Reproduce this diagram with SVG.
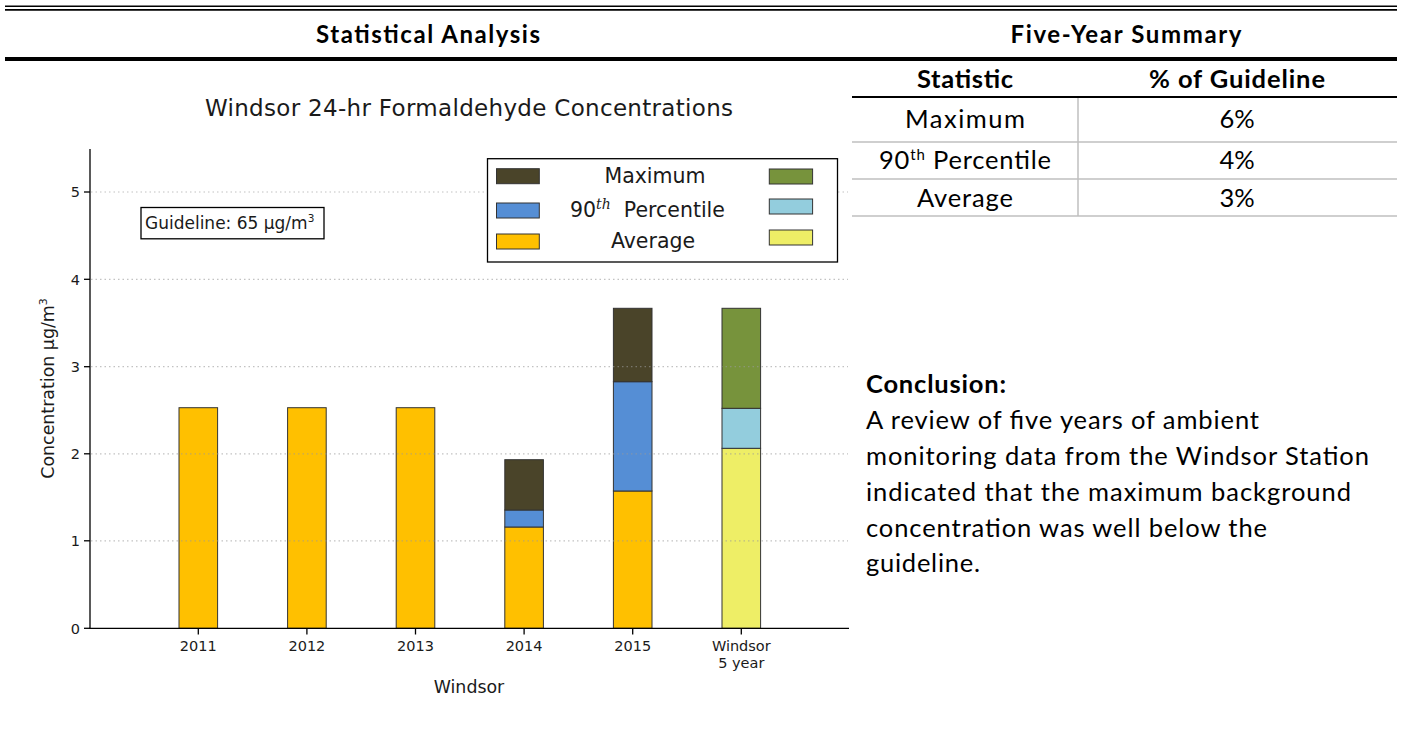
<svg xmlns="http://www.w3.org/2000/svg" width="1401" height="729" viewBox="0 0 1401 729">
<style>
.hd{font-family:Lato,"Liberation Sans",sans-serif;font-weight:bold;font-size:24px;fill:#000}
.tb{font-family:Lato,"Liberation Sans",sans-serif;font-size:25.5px;fill:#000}
.tbb{font-family:Lato,"Liberation Sans",sans-serif;font-weight:bold;font-size:25.5px;fill:#000}
.mp{font-family:"DejaVu Sans",sans-serif;fill:#1a1a1a}
.tick{font-size:14.5px}
.grid{stroke:#999;stroke-opacity:0.6;stroke-width:1.2;stroke-dasharray:1.5 3}
.bar{stroke:#333;stroke-width:1}
.mx{fill:#4a4429}.p90{fill:#558ed5}.av{fill:#ffc000}
.wmx{fill:#77933c}.wp90{fill:#93cddd}.wav{fill:#eeee66}
.rule{stroke:#bfbfbf;stroke-width:1.5}
</style>
<rect width="1401" height="729" fill="#fff"/>
<g id="frame">
<line x1="5" y1="6.3" x2="1397" y2="6.3" stroke="#000" stroke-width="1.5"/>
<line x1="5" y1="9.8" x2="1397" y2="9.8" stroke="#000" stroke-width="1.8"/>
<line x1="5" y1="59" x2="1397" y2="59" stroke="#000" stroke-width="4"/>
<text class="hd" x="428" y="43" text-anchor="middle" textLength="224">Statistical Analysis</text>
<text class="hd" x="1126" y="43" text-anchor="middle" textLength="231">Five-Year Summary</text>
</g>
<g id="summary-table">
<line x1="852" y1="97" x2="1397" y2="97" stroke="#000" stroke-width="2"/>
<line class="rule" x1="852" y1="142" x2="1397" y2="142"/>
<line class="rule" x1="852" y1="179" x2="1397" y2="179"/>
<line class="rule" x1="852" y1="216" x2="1397" y2="216"/>
<line class="rule" x1="1078" y1="98" x2="1078" y2="216"/>
<text class="tbb" x="965" y="88" text-anchor="middle" textLength="96">Statistic</text>
<text class="tbb" x="1237" y="88" text-anchor="middle" textLength="176">% of Guideline</text>
<text class="tb" x="965" y="128" text-anchor="middle" textLength="120">Maximum</text>
<text class="tb" x="1237" y="128" text-anchor="middle">6%</text>
<text class="tb" x="965" y="169" text-anchor="middle" textLength="172">90<tspan font-size="15" dy="-9">th</tspan><tspan dy="9"> Percentile</tspan></text>
<text class="tb" x="1237" y="169" text-anchor="middle">4%</text>
<text class="tb" x="965" y="207" text-anchor="middle" textLength="96">Average</text>
<text class="tb" x="1237" y="207" text-anchor="middle">3%</text>
</g>
<g id="conclusion">
<text class="tbb" x="866" y="393" textLength="140">Conclusion:</text>
<text class="tb" x="866" y="429" textLength="393">A review of five years of ambient</text>
<text class="tb" x="866" y="465" textLength="503">monitoring data from the Windsor Station</text>
<text class="tb" x="866" y="501" textLength="485">indicated that the maximum background</text>
<text class="tb" x="866" y="537" textLength="401">concentration was well below the</text>
<text class="tb" x="866" y="572" textLength="114">guideline.</text>
</g>
<g id="chart">
<text class="mp" x="469" y="116" font-size="23" text-anchor="middle" textLength="528">Windsor 24-hr Formaldehyde Concentrations</text>
<g id="bars">
<rect class="bar av" x="179" y="407.7" width="38.6" height="220.6"/>
<rect class="bar av" x="287.6" y="407.7" width="38.6" height="220.6"/>
<rect class="bar av" x="396.2" y="407.7" width="38.6" height="220.6"/>
<rect class="bar av" x="504.8" y="527" width="38.6" height="101.3"/>
<rect class="bar p90" x="504.8" y="510" width="38.6" height="17"/>
<rect class="bar mx" x="504.8" y="459.7" width="38.6" height="50.3"/>
<rect class="bar av" x="613.4" y="491" width="38.6" height="137.3"/>
<rect class="bar p90" x="613.4" y="381.7" width="38.6" height="109.3"/>
<rect class="bar mx" x="613.4" y="308.3" width="38.6" height="73.4"/>
<rect class="bar wav" x="722" y="448.3" width="38.6" height="180"/>
<rect class="bar wp90" x="722" y="408.3" width="38.6" height="40"/>
<rect class="bar wmx" x="722" y="308.3" width="38.6" height="100"/>
</g>
<g id="gridlines">
<line class="grid" x1="91" y1="192" x2="848" y2="192"/>
<line class="grid" x1="91" y1="279.3" x2="848" y2="279.3"/>
<line class="grid" x1="91" y1="366.7" x2="848" y2="366.7"/>
<line class="grid" x1="91" y1="453.8" x2="848" y2="453.8"/>
<line class="grid" x1="91" y1="540.8" x2="848" y2="540.8"/>
</g>
<g id="axes" stroke="#000" stroke-width="1.3">
<line x1="90" y1="149" x2="90" y2="628.3"/>
<line x1="89.4" y1="628.3" x2="849" y2="628.3"/>
<line x1="84" y1="628.3" x2="90" y2="628.3"/>
<line x1="84" y1="540.8" x2="90" y2="540.8"/>
<line x1="84" y1="453.8" x2="90" y2="453.8"/>
<line x1="84" y1="366.7" x2="90" y2="366.7"/>
<line x1="84" y1="279.3" x2="90" y2="279.3"/>
<line x1="84" y1="192" x2="90" y2="192"/>
<line x1="198.3" y1="628.3" x2="198.3" y2="634.5"/>
<line x1="306.9" y1="628.3" x2="306.9" y2="634.5"/>
<line x1="415.5" y1="628.3" x2="415.5" y2="634.5"/>
<line x1="524.1" y1="628.3" x2="524.1" y2="634.5"/>
<line x1="632.7" y1="628.3" x2="632.7" y2="634.5"/>
<line x1="741.3" y1="628.3" x2="741.3" y2="634.5"/>
</g>
<g id="tick-labels" class="mp tick">
<text x="80" y="633.5" text-anchor="end">0</text>
<text x="80" y="546" text-anchor="end">1</text>
<text x="80" y="459" text-anchor="end">2</text>
<text x="80" y="372" text-anchor="end">3</text>
<text x="80" y="284.5" text-anchor="end">4</text>
<text x="80" y="197.2" text-anchor="end">5</text>
<text x="198.3" y="651" text-anchor="middle">2011</text>
<text x="306.9" y="651" text-anchor="middle">2012</text>
<text x="415.5" y="651" text-anchor="middle">2013</text>
<text x="524.1" y="651" text-anchor="middle">2014</text>
<text x="632.7" y="651" text-anchor="middle">2015</text>
<text x="741.3" y="651" text-anchor="middle">Windsor</text>
<text x="741.3" y="668" text-anchor="middle">5 year</text>
</g>
<text class="mp" x="469" y="693" font-size="17.4" text-anchor="middle">Windsor</text>
<text class="mp" transform="translate(54,388.5) rotate(-90)" font-size="17.4" text-anchor="middle">Concentration µg/m<tspan font-size="11" dy="-7">3</tspan></text>
<g id="guideline-box">
<rect x="141" y="207.5" width="183" height="31.3" fill="#fff" stroke="#000" stroke-width="1.3"/>
<text class="mp" x="145" y="229" font-size="17">Guideline: 65 µg/m<tspan font-size="10.5" dy="-7">3</tspan></text>
</g>
<g id="legend">
<rect x="487.5" y="158.7" width="350" height="103.3" fill="#fff" stroke="#000" stroke-width="1.3"/>
<rect class="bar mx" x="496.5" y="168.7" width="42.8" height="15"/>
<rect class="bar p90" x="496.5" y="203" width="42.8" height="15"/>
<rect class="bar av" x="496.5" y="234" width="42.8" height="15"/>
<rect class="bar wmx" x="769.3" y="169" width="43.3" height="15"/>
<rect class="bar wp90" x="769.3" y="199" width="43.3" height="15"/>
<rect class="bar wav" x="769.3" y="230" width="43.3" height="15"/>
<text class="mp" x="655" y="183" font-size="20.5" text-anchor="middle">Maximum</text>
<text class="mp" x="570" y="217" font-size="20.5">90<tspan font-family="'DejaVu Serif',serif" font-style="italic" font-size="14" dy="-8">th</tspan><tspan dy="8" xml:space="preserve">  Percentile</tspan></text>
<text class="mp" x="653" y="248" font-size="20.5" text-anchor="middle">Average</text>
</g>
</g>
</svg>
